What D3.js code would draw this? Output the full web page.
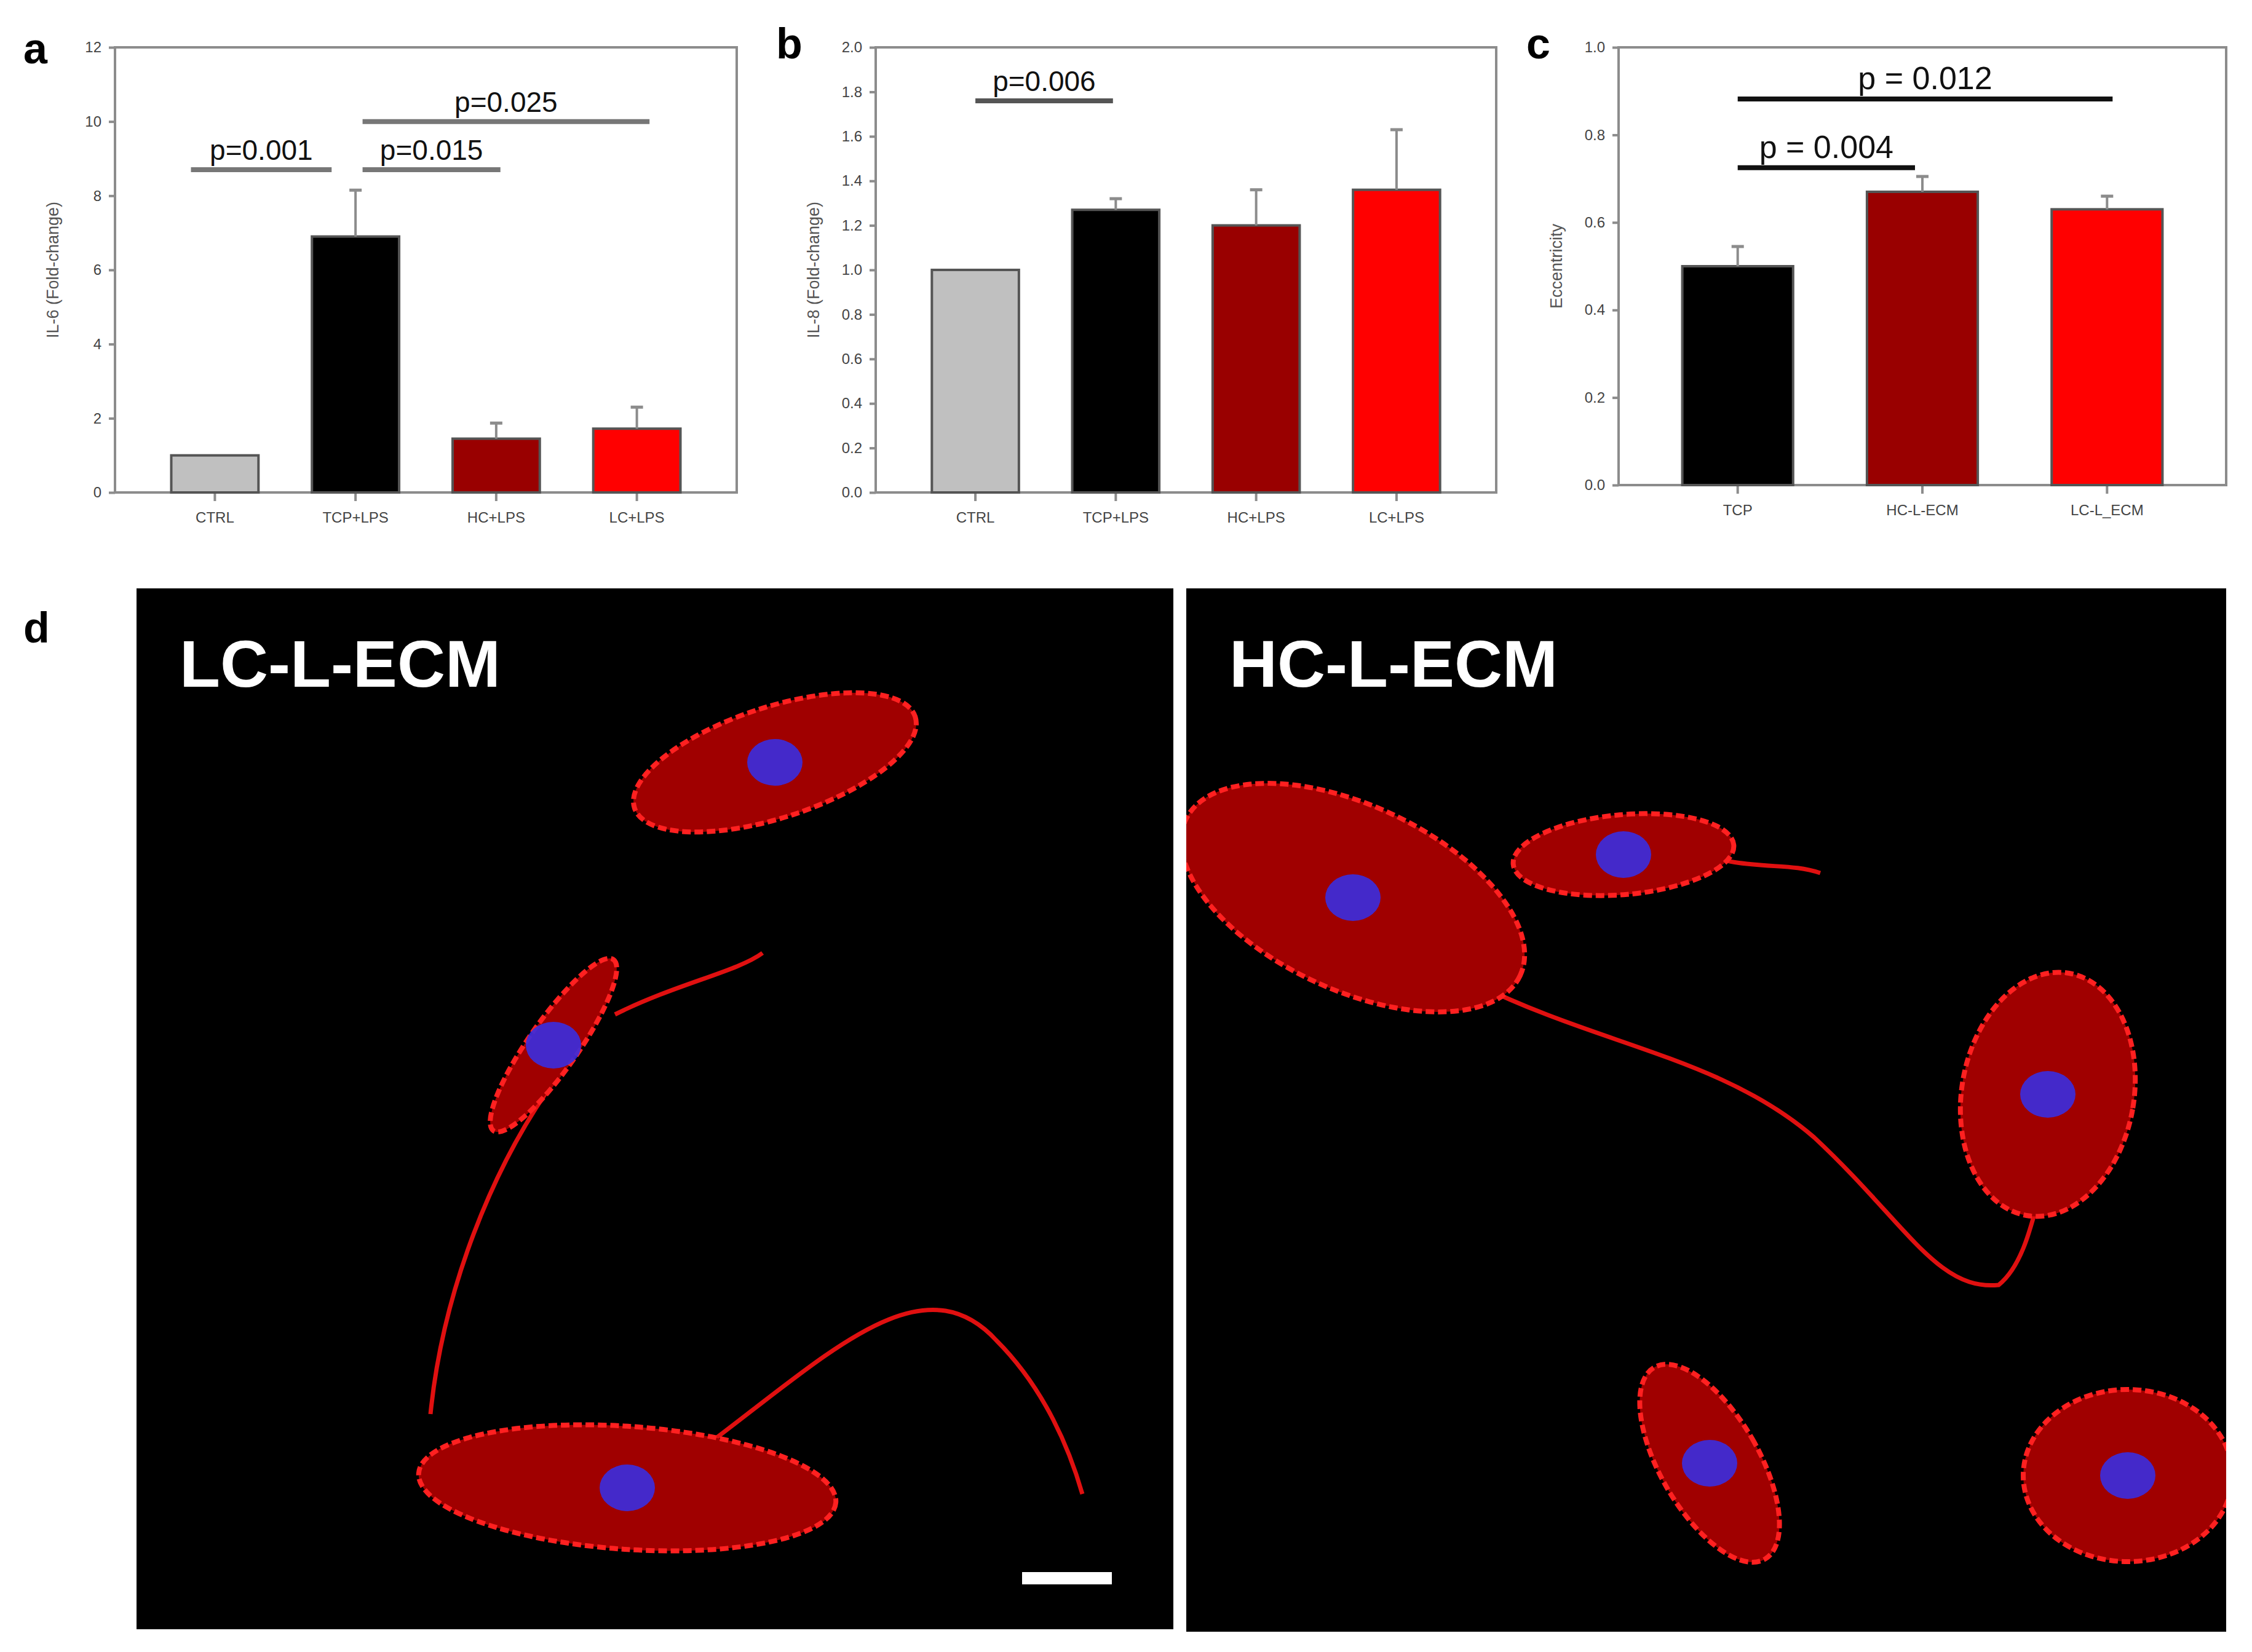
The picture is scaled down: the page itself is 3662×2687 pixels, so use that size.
<!DOCTYPE html>
<html><head><meta charset="utf-8">
<script src="https://cdn.jsdelivr.net/npm/d3@7/dist/d3.min.js"></script>
<style>body{margin:0;background:#fff}text{font-family:"Liberation Sans",Arial,sans-serif}</style>
</head><body><svg id="fig" width="3662" height="2687"></svg>
<script>
// panel a : IL-6
const catsA = ["CTRL", "TCP+LPS", "HC+LPS", "LC+LPS"];
const meanA = [1.0, 6.9, 1.45, 1.72];
const errA = [0, 1.25, 0.42, 0.58];
const sigA = [[-0.17, 0.83, 8.7, "p=0.001"], [1.05, 2.03, 8.7, "p=0.015"], [1.05, 3.09, 10.0, "p=0.025"]];
// panel b : IL-8
const catsB = ["CTRL", "TCP+LPS", "HC+LPS", "LC+LPS"];
const meanB = [1.0, 1.27, 1.2, 1.36];
const errB = [0, 0.05, 0.16, 0.27];
const sigB = [[0, 0.98, 1.76, "p=0.006"]];
// panel c : eccentricity
const catsC = ["TCP", "HC-L-ECM", "LC-L_ECM"];
const meanC = [0.5, 0.67, 0.63];
const errC = [0.045, 0.035, 0.03];
const sigC = [[0, 0.96, 0.725, "p = 0.004"], [0, 2.03, 0.882, "p = 0.012"]];
const colors4 = ["#c0c0c0", "#000000", "#990000", "#ff0000"];
const colors3 = ["#000000", "#990000", "#ff0000"];

const svg = d3.select("#fig");

function barPanel(o) {
  const g = svg.append("g");
  const x = d3.scaleBand().domain(o.cats).range([o.x0, o.x1]).paddingInner(o.pi).paddingOuter(o.po);
  const y = d3.scaleLinear().domain([0, o.max]).range([o.y1, o.y0]);
  const cx = i => x(o.cats[0]) + x.bandwidth() / 2 + i * x.step();
  // frame
  g.append("rect").attr("x", o.x0).attr("y", o.y0).attr("width", o.x1 - o.x0).attr("height", o.y1 - o.y0)
    .attr("fill", "none").attr("stroke", "#8c8c8c").attr("stroke-width", 4);
  const ya = g.append("g").attr("transform", `translate(${o.x0},0)`)
    .call(d3.axisLeft(y).tickValues(o.ticks).tickFormat(o.fmt).tickSize(10).tickPadding(12));
  const xa = g.append("g").attr("transform", `translate(0,${o.y1})`)
    .call(d3.axisBottom(x).tickSize(14).tickPadding(18));
  [ya, xa].forEach(a => {
    a.select(".domain").remove();
    a.selectAll("line").attr("stroke", "#8c8c8c").attr("stroke-width", 4);
    a.selectAll("text").attr("fill", "#444").attr("font-size", 24);
  });
  g.selectAll(".bar").data(o.mean).join("rect")
    .attr("x", (d, i) => x(o.cats[i])).attr("width", x.bandwidth())
    .attr("y", d => y(d)).attr("height", d => o.y1 - y(d))
    .attr("fill", (d, i) => o.colors[i]).attr("stroke", "#555").attr("stroke-width", 4);
  o.mean.forEach((d, i) => {
    if (!o.err[i]) return;
    const xc = cx(i);
    g.append("line").attr("x1", xc).attr("x2", xc).attr("y1", y(d)).attr("y2", y(d + o.err[i]))
      .attr("stroke", "#8c8c8c").attr("stroke-width", 4);
    g.append("line").attr("x1", xc - 10).attr("x2", xc + 10).attr("y1", y(d + o.err[i])).attr("y2", y(d + o.err[i]))
      .attr("stroke", "#8c8c8c").attr("stroke-width", 5);
  });
  o.sig.forEach(s => {
    const a = cx(s[0]), b = cx(s[1]);
    g.append("line").attr("x1", a).attr("x2", b).attr("y1", y(s[2])).attr("y2", y(s[2]))
      .attr("stroke", o.sigColor).attr("stroke-width", 8);
    g.append("text").attr("x", (a + b) / 2).attr("y", y(s[2]) - 16)
      .attr("text-anchor", "middle").attr("font-size", o.sigSize).attr("fill", "#111").text(s[3]);
  });
  g.append("text").attr("transform", `translate(${o.x0 - 92},${(o.y0 + o.y1) / 2}) rotate(-90)`)
    .attr("text-anchor", "middle").attr("font-size", 27).attr("fill", "#555").text(o.title);
  svg.append("text").attr("x", o.lx).attr("y", o.ly).attr("font-size", 70).attr("font-weight", "bold").text(o.letter);
}

barPanel({ cats: catsA, mean: meanA, err: errA, sig: sigA, colors: colors4, max: 12,
  ticks: [0, 2, 4, 6, 8, 10, 12], fmt: d3.format("d"), x0: 187, x1: 1198, y0: 77, y1: 801,
  pi: 0.38, po: 0.4, title: "IL-6 (Fold-change)", sigColor: "#777", sigSize: 46,
  letter: "a", lx: 38, ly: 103 });
barPanel({ cats: catsB, mean: meanB, err: errB, sig: sigB, colors: colors4, max: 2,
  ticks: d3.range(0, 2.01, 0.2), fmt: d3.format(".1f"), x0: 1424, x1: 2433, y0: 77, y1: 801,
  pi: 0.38, po: 0.4, title: "IL-8 (Fold-change)", sigColor: "#555", sigSize: 46,
  letter: "b", lx: 1262, ly: 95 });
barPanel({ cats: catsC, mean: meanC, err: errC, sig: sigC, colors: colors3, max: 1,
  ticks: d3.range(0, 1.01, 0.2), fmt: d3.format(".1f"), x0: 2632, x1: 3620, y0: 77, y1: 789,
  pi: 0.4, po: 0.345, title: "Eccentricity", sigColor: "#111", sigSize: 52,
  letter: "c", lx: 2482, ly: 95 });

// panel d : micrographs (stylised)
svg.append("text").attr("x", 38).attr("y", 1045).attr("font-size", 70).attr("font-weight", "bold").text("d");
const photos = [
  { x: 222, y: 957, w: 1686, h: 1693, label: "LC-L-ECM",
    cells: [[1260, 1240, 240, 90, -18], [900, 1700, 170, 40, -55], [1020, 2420, 340, 100, 4]],
    fibers: ["M700,2300 C720,2100 800,1900 900,1760", "M1150,2350 C1350,2200 1500,2050 1620,2180 C1700,2260 1740,2360 1760,2430", "M1000,1650 C1100,1600 1200,1580 1240,1550"] },
  { x: 1929, y: 957, w: 1691, h: 1697, label: "HC-L-ECM",
    cells: [[2200, 1460, 300, 150, 25], [2640, 1390, 180, 65, -5], [3330, 1780, 140, 200, 10], [2780, 2380, 80, 180, -30], [3460, 2400, 170, 140, 0]],
    fibers: ["M2400,1600 C2600,1700 2800,1720 2950,1850 C3100,1990 3150,2100 3250,2090 C3300,2050 3310,1950 3330,1900", "M2730,1380 C2850,1420 2900,1400 2960,1420"] }
];
photos.forEach((p, k) => {
  const g = svg.append("g");
  svg.append("clipPath").attr("id", "clip" + k).append("rect")
    .attr("x", p.x).attr("y", p.y).attr("width", p.w).attr("height", p.h);
  g.append("rect").attr("x", p.x).attr("y", p.y).attr("width", p.w).attr("height", p.h).attr("fill", "#000");
  const c = g.append("g").attr("clip-path", `url(#clip${k})`);
  c.selectAll(".f").data(p.fibers).join("path").attr("d", d => d)
    .attr("fill", "none").attr("stroke", "#e01010").attr("stroke-width", 7);
  c.selectAll(".c").data(p.cells).join("ellipse")
    .attr("cx", d => d[0]).attr("cy", d => d[1]).attr("rx", d => d[2]).attr("ry", d => d[3])
    .attr("transform", d => `rotate(${d[4]},${d[0]},${d[1]})`)
    .attr("fill", "#a00000").attr("stroke", "#ff2020").attr("stroke-width", 8).attr("stroke-dasharray", "14 6");
  c.selectAll(".n").data(p.cells).join("ellipse")
    .attr("cx", d => d[0]).attr("cy", d => d[1]).attr("rx", 45).attr("ry", 38)
    .attr("fill", "#3a2ee0").attr("opacity", 0.9);
  g.append("text").attr("x", p.x + 70).attr("y", p.y + 160).attr("font-size", 108)
    .attr("font-weight", "bold").attr("fill", "#fff").attr("font-family", "Open Sans, sans-serif").text(p.label);
});
svg.append("rect").attr("x", 1662).attr("y", 2557).attr("width", 146).attr("height", 20).attr("fill", "#fff");
</script></body></html>
